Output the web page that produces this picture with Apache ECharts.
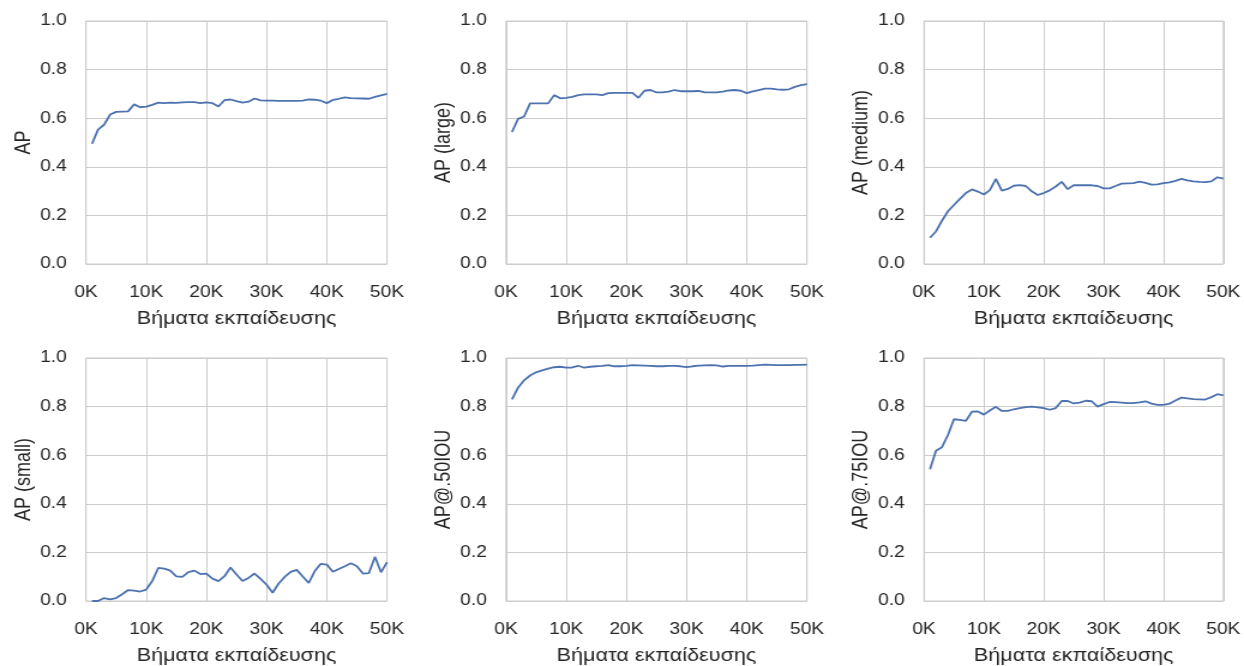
<!DOCTYPE html>
<html>
<head>
<meta charset="utf-8">
<script src="https://cdn.jsdelivr.net/npm/echarts@6/dist/echarts.min.js"></script>
<style>
  html, body { margin: 0; padding: 0; background: #ffffff; overflow: hidden; }
  #chart { width: 1037px; height: 666px; transform-origin: 0 0; }
</style>
</head>
<body>
<div id="chart"></div>
<script>
// Training steps at which each checkpoint was evaluated
const steps = [
  1000, 2000, 3000, 4000, 5000, 6000, 7000, 8000, 9000, 10000,
  11000, 12000, 13000, 14000, 15000, 16000, 17000, 18000, 19000, 20000,
  21000, 22000, 23000, 24000, 25000, 26000, 27000, 28000, 29000, 30000,
  31000, 32000, 33000, 34000, 35000, 36000, 37000, 38000, 39000, 40000,
  41000, 42000, 43000, 44000, 45000, 46000, 47000, 48000, 49000, 50000
];

const ap = [
  0.495, 0.553, 0.573, 0.615, 0.626, 0.627, 0.628, 0.657, 0.645, 0.648,
  0.655, 0.664, 0.662, 0.664, 0.663, 0.665, 0.666, 0.666, 0.662, 0.665,
  0.662, 0.648, 0.674, 0.677, 0.670, 0.664, 0.668, 0.681, 0.673, 0.672,
  0.672, 0.671, 0.671, 0.671, 0.671, 0.672, 0.677, 0.676, 0.672, 0.662,
  0.675, 0.680, 0.686, 0.683, 0.682, 0.681, 0.680, 0.688, 0.694, 0.700
];

const apLarge = [
  0.543, 0.597, 0.607, 0.661, 0.661, 0.661, 0.661, 0.695, 0.682, 0.684,
  0.688, 0.695, 0.698, 0.698, 0.698, 0.695, 0.703, 0.704, 0.704, 0.704,
  0.704, 0.684, 0.713, 0.716, 0.706, 0.706, 0.709, 0.716, 0.711, 0.711,
  0.711, 0.712, 0.706, 0.706, 0.706, 0.709, 0.714, 0.716, 0.713, 0.703,
  0.710, 0.716, 0.722, 0.722, 0.719, 0.717, 0.719, 0.729, 0.736, 0.740
];

const apMedium = [
  0.108, 0.134, 0.178, 0.217, 0.243, 0.268, 0.292, 0.307, 0.298, 0.286,
  0.304, 0.350, 0.302, 0.309, 0.322, 0.325, 0.321, 0.299, 0.284, 0.292,
  0.303, 0.319, 0.338, 0.308, 0.324, 0.324, 0.324, 0.324, 0.321, 0.311,
  0.311, 0.321, 0.331, 0.332, 0.333, 0.339, 0.334, 0.327, 0.328, 0.333,
  0.336, 0.342, 0.350, 0.344, 0.340, 0.338, 0.337, 0.340, 0.357, 0.351
];

const apSmall = [
  0.000, 0.000, 0.012, 0.007, 0.012, 0.028, 0.045, 0.043, 0.039, 0.047,
  0.082, 0.136, 0.133, 0.125, 0.101, 0.099, 0.119, 0.125, 0.111, 0.113,
  0.092, 0.082, 0.102, 0.138, 0.109, 0.082, 0.095, 0.113, 0.091, 0.067,
  0.034, 0.072, 0.099, 0.120, 0.128, 0.101, 0.074, 0.123, 0.153, 0.150,
  0.120, 0.132, 0.143, 0.155, 0.143, 0.113, 0.115, 0.182, 0.118, 0.160
];

const ap50 = [
  0.830, 0.878, 0.908, 0.928, 0.941, 0.949, 0.956, 0.962, 0.964, 0.960,
  0.961, 0.968, 0.960, 0.964, 0.966, 0.968, 0.971, 0.966, 0.966, 0.968,
  0.971, 0.970, 0.969, 0.968, 0.966, 0.966, 0.968, 0.968, 0.966, 0.962,
  0.966, 0.969, 0.970, 0.971, 0.970, 0.965, 0.968, 0.968, 0.968, 0.968,
  0.969, 0.971, 0.973, 0.972, 0.971, 0.971, 0.971, 0.972, 0.972, 0.973
];

const ap75 = [
  0.542, 0.618, 0.633, 0.683, 0.748, 0.745, 0.741, 0.779, 0.780, 0.767,
  0.784, 0.799, 0.782, 0.782, 0.789, 0.794, 0.798, 0.800, 0.797, 0.794,
  0.787, 0.794, 0.823, 0.823, 0.813, 0.816, 0.824, 0.822, 0.800, 0.810,
  0.819, 0.818, 0.816, 0.814, 0.814, 0.817, 0.822, 0.812, 0.807, 0.807,
  0.812, 0.825, 0.837, 0.834, 0.831, 0.830, 0.829, 0.839, 0.851, 0.846
];

const metricNames = ['AP', 'AP (large)', 'AP (medium)', 'AP (small)', 'AP@.50IOU', 'AP@.75IOU'];
const metricValues = [ap, apLarge, apMedium, apSmall, ap50, ap75];
const xAxisTitle = 'Βήματα εκπαίδευσης';

// The figure is laid out on a narrower canvas and widened horizontally,
// giving the wide, stretched look of the text and panels.
const PAGE_W = 1244;
const CANVAS_W = 1037;
const STRETCH = PAGE_W / CANVAS_W;
const chartEl = document.getElementById('chart');
chartEl.style.transform = 'scaleX(' + STRETCH + ')';

// Panel placement on the page (2 rows x 3 columns), converted to canvas units
const colLeftPage = [86, 506, 924];
const panelWPage = 301;
const rowTop = [21, 358];
const panelH = 243;

const FONT = '"Liberation Sans", Arial, sans-serif';
const TEXT = '#262626';
const GRID = '#cccccc';
const LINE = '#4c72b0';

const grids = [], xAxes = [], yAxes = [], series = [];
metricNames.forEach((name, i) => {
  const r = Math.floor(i / 3), c = i % 3;
  grids.push({
    left: colLeftPage[c] / STRETCH, top: rowTop[r],
    width: panelWPage / STRETCH, height: panelH,
    show: true, borderColor: GRID, borderWidth: 1, backgroundColor: '#ffffff'
  });
  xAxes.push({
    type: 'value', gridIndex: i, min: 0, max: 50000, interval: 10000,
    name: xAxisTitle, nameLocation: 'middle', nameGap: 46,
    nameTextStyle: { color: TEXT, fontFamily: FONT, fontSize: 18 },
    axisLine: { show: false }, axisTick: { show: false },
    axisLabel: {
      color: TEXT, fontFamily: FONT, fontSize: 16, margin: 21,
      formatter: v => (v / 1000) + 'K'
    },
    splitLine: { show: true, lineStyle: { color: GRID, width: 1 } }
  });
  yAxes.push({
    type: 'value', gridIndex: i, min: 0, max: 1, interval: 0.2,
    name: name, nameLocation: 'middle', nameGap: 43,
    nameTextStyle: { color: TEXT, fontFamily: FONT, fontSize: 18 },
    axisLine: { show: false }, axisTick: { show: false },
    axisLabel: {
      color: TEXT, fontFamily: FONT, fontSize: 16, margin: 16,
      formatter: v => v.toFixed(1)
    },
    splitLine: { show: true, lineStyle: { color: GRID, width: 1 } }
  });
  series.push({
    type: 'line', xAxisIndex: i, yAxisIndex: i,
    data: steps.map((s, k) => [s, metricValues[i][k]]),
    showSymbol: false, symbol: 'none', silent: true,
    lineStyle: { color: LINE, width: 1.8 },
    animation: false
  });
});

const chart = echarts.init(chartEl, null, { renderer: 'canvas' });
chart.setOption({
  backgroundColor: '#ffffff',
  animation: false,
  grid: grids,
  xAxis: xAxes,
  yAxis: yAxes,
  series: series
});
</script>
</body>
</html>
